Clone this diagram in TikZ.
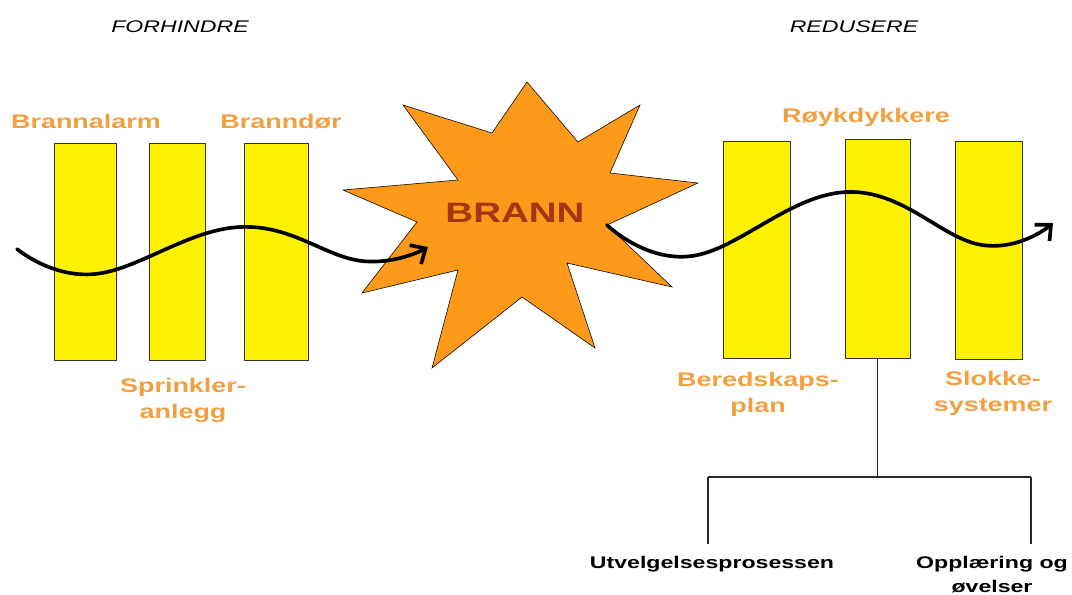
\documentclass[tikz,border=0pt]{standalone}
\usepackage{fontspec}
\newfontfamily\labelfont{Liberation Sans}[FakeStretch=1.37]
\usetikzlibrary{arrows.meta}
\definecolor{labelorange}{RGB}{240,160,64}
\definecolor{starorange}{RGB}{255,153,25}
\definecolor{brannred}{RGB}{168,52,20}

\begin{document}
\begin{tikzpicture}[x=0.025cm,y=-0.025cm,
	bar/.style 2 args={draw=black!80,fill=yellow,inner sep=0,minimum width=#1*0.025cm,minimum height=#2*0.025cm},
	heading/.style={font=\labelfont\itshape\fontsize{12}{14}\selectfont,anchor=base},
	barlabel/.style={font=\labelfont\bfseries\fontsize{14}{18}\selectfont,text=labelorange,align=center,anchor=base},
	task/.style={font=\labelfont\bfseries\fontsize{12}{17}\selectfont,align=center,anchor=base,inner ysep=8pt},
	wave/.style={line width=2.6pt,line cap=round,-{Straight Barb[length=0.3cm,width=0.55cm]}}]
			\useasboundingbox (0,0) rectangle (1072,594);
			\node[heading] (forhindre) at (180,32) {FORHINDRE};
			\node[heading] (redusere) at (854,32) {REDUSERE};
			\node[bar={62}{217}] (alarm) at (85,251.5) {};
			\node[bar={56}{217}] (sprinkler) at (177,251.5) {};
			\node[bar={64}{217}] (dor) at (276,251.5) {};
			\node[bar={67}{217}] (plan) at (756.5,249.5) {};
			\node[bar={65}{219}] (royk) at (877.5,248.5) {};
			\node[bar={67}{218}] (slokke) at (988.5,250) {};
			\path[draw=black,line width=0.4pt,fill=starorange] (527,82) -- (578,142) -- (640,105) -- (610,173)
				-- (698,183) -- (607,225) -- (672,287) -- (567,263) -- (595,348) -- (522,297) -- (432,368)
				-- (458,270) -- (362,293) -- (417,222) -- (343,190) -- (458,180) -- (403,105) -- (492,133) -- cycle;
			\node[font=\labelfont\bfseries\fontsize{20}{24}\selectfont,text=brannred,anchor=base] (brann) at (515,222) {BRANN};
			\draw[wave] plot[smooth,tension=0.7] coordinates {(17,249) (95,274) (240,227) (362,261) (428,247)};
			\draw[wave] plot[smooth,tension=0.7] coordinates {(607,225) (692,256) (847,192) (982,245) (1053,223)};
			\node[barlabel] (alarmtxt) at (86,128) {Brannalarm};
			\node[barlabel] (dortxt) at (281,128) {Branndør};
			\node[barlabel] (sprinklertxt) at (183,418) {Sprinkler-\\anlegg};
			\node[barlabel] (roykttxt) at (866,122) {Røykdykkere};
			\node[barlabel] (plantxt) at (758,412) {Beredskaps-\\plan};
			\node[barlabel] (slokketxt) at (993,411) {Slokke-\\systemer};
			\node[task] (utvelgelse) at (712,568) {Utvelgelsesprosessen};
			\node[task] (opplaering) at (992,592) {Opplæring og\\øvelser};
			\coordinate (forkl) at (708,477);
			\coordinate (forkr) at (1031,477);
			\draw[line width=1pt,black!85] (royk.south) -- (royk.south |- forkl);
			\draw[line width=1pt,black!85] (forkl) -- (forkr);
			\draw[line width=1pt,black!85] (forkl) -- (forkl |- utvelgelse.north);
			\draw[line width=1pt,black!85] (forkr) -- (forkr |- opplaering.north);
\end{tikzpicture}
\end{document}
